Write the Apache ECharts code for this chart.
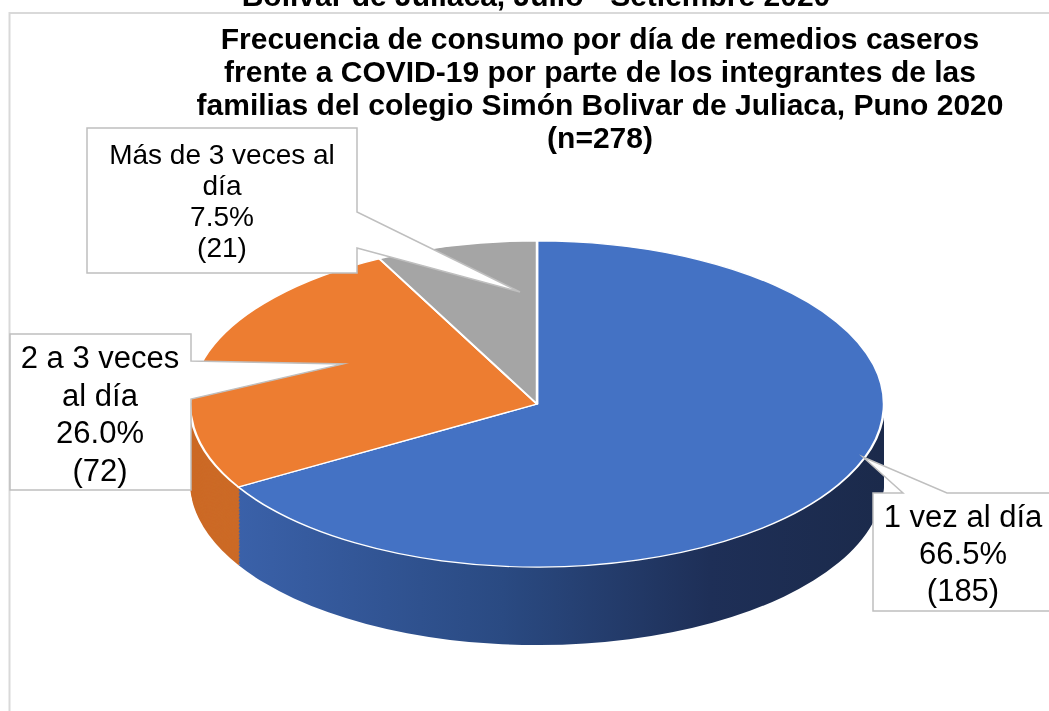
<!DOCTYPE html>
<html>
<head>
<meta charset="utf-8">
<script src="https://cdn.jsdelivr.net/npm/echarts/dist/echarts.min.js"></script>
<style>
  html, body { margin: 0; padding: 0; background: #fff; }
  #wrap { position: relative; width: 1049px; height: 711px; overflow: hidden; }
  /* el pastel se dibuja redondo y se aplasta en vertical para dar la vista 3D */
  #pie { position: absolute; left: 0; top: 0; width: 1049px; height: 1513px; transform: scaleY(0.47); transform-origin: 0 0; }
  #labels { position: absolute; left: 0; top: 0; width: 1049px; height: 711px; }
</style>
</head>
<body>
<div id="wrap">
  <div id="pie"></div>
  <div id="labels"></div>
</div>
<script>
const categories = ['1 vez al día', '2 a 3 veces al día', 'Más de 3 veces al día']
const percents = [66.5, 26.0, 7.5]
const counts = [185, 72, 21]
const sampleSize = 278

const titleLines = [
  'Frecuencia de consumo por día de remedios caseros',
  'frente a COVID-19 por parte de los integrantes de las',
  'familias del colegio Simón Bolivar de Juliaca, Puno 2020',
  '(n=' + sampleSize + ')'
]
const cutTitle = 'Bolivar de Juliaca, Julio - Setiembre 2020'

const topColors = ['#4472c4', '#ed7d31', '#a5a5a5']
const FONT = '"Liberation Sans", Arial, sans-serif'

// geometria del pastel (px de pantalla)
const tilt = 0.47
const cx = 537
const cyScreen = 404
const rx = 347
const depth = 78

const cy = cyScreen / tilt
const depthPre = depth / tilt

const wallColors = [
  {
    type: 'linear', x: cx - rx, y: 0, x2: cx + rx, y2: 0, global: true,
    colorStops: [
      { offset: 0, color: '#3d65b0' },
      { offset: 0.45, color: '#2a4a82' },
      { offset: 0.75, color: '#1e2f57' },
      { offset: 1, color: '#1b2a4b' }
    ]
  },
  '#cc6a26',
  '#8c8c8c'
]

function pieSeries(centerY, colors, border) {
  return {
    type: 'pie',
    center: [cx, centerY],
    radius: rx,
    startAngle: 90,
    clockwise: true,
    silent: true,
    animation: false,
    label: { show: false },
    labelLine: { show: false },
    itemStyle: border ? { borderColor: '#fff', borderWidth: 2.5 } : { borderWidth: 0 },
    data: percents.map((v, i) => ({
      value: v,
      name: categories[i],
      itemStyle: { color: colors[i] }
    }))
  }
}

const series = []
for (let k = depthPre; k > 0; k -= 3) {
  series.push(pieSeries(cy + k, wallColors, false))
}
series.push(pieSeries(cy, topColors, true))

const pieChart = echarts.init(document.getElementById('pie'), null, { renderer: 'svg' })
pieChart.setOption({ animation: false, series: series })

// cuadros de etiqueta con su puntero; wrap = palabras en la primera linea
const callouts = [
  {
    idx: 2, wrap: 5, fontSize: 28, lineHeight: 31, tx: 222, ty: 203,
    points: [[87, 128], [357, 128], [357, 212], [520, 292], [357, 248], [357, 273], [87, 273]]
  },
  {
    idx: 1, wrap: 4, fontSize: 31, lineHeight: 37.5, tx: 100, ty: 416,
    points: [[10, 334], [191, 334], [191, 361], [343, 364], [191, 399], [191, 490], [10, 490]]
  },
  {
    idx: 0, wrap: 0, fontSize: 31, lineHeight: 37, tx: 963, ty: 555,
    points: [[873, 493], [903, 493], [863, 457], [947, 493], [1060, 493], [1060, 611], [873, 611]]
  }
]

function wrapName(name, n) {
  if (!n) return name
  const words = name.split(' ')
  return words.slice(0, n).join(' ') + '\n' + words.slice(n).join(' ')
}

const graphic = [
  {
    type: 'polyline',
    shape: { points: [[9.5, 711], [9.5, 13], [1049, 13]] },
    style: { stroke: '#d9d9d9', lineWidth: 2, fill: null }
  },
  {
    type: 'text',
    style: {
      text: cutTitle, x: 536, y: -2, font: 'bold 30px ' + FONT,
      textAlign: 'center', textVerticalAlign: 'middle', fill: '#000'
    }
  },
  {
    type: 'text',
    style: {
      text: titleLines.join('\n'), x: 600, y: 90, font: 'bold 30px ' + FONT,
      lineHeight: 33, textAlign: 'center', textVerticalAlign: 'middle', fill: '#000'
    }
  }
]

callouts.forEach(c => {
  graphic.push({
    type: 'polygon',
    z: 10,
    shape: { points: c.points },
    style: { fill: '#fff', stroke: '#bfbfbf', lineWidth: 1.5 }
  })
  graphic.push({
    type: 'text',
    z: 11,
    style: {
      text: wrapName(categories[c.idx], c.wrap) + '\n' + percents[c.idx].toFixed(1) + '%\n(' + counts[c.idx] + ')',
      x: c.tx, y: c.ty,
      font: c.fontSize + 'px ' + FONT,
      lineHeight: c.lineHeight,
      textAlign: 'center', textVerticalAlign: 'middle', fill: '#000'
    }
  })
})

const labelChart = echarts.init(document.getElementById('labels'))
labelChart.setOption({ animation: false, graphic: graphic })
</script>
</body>
</html>
